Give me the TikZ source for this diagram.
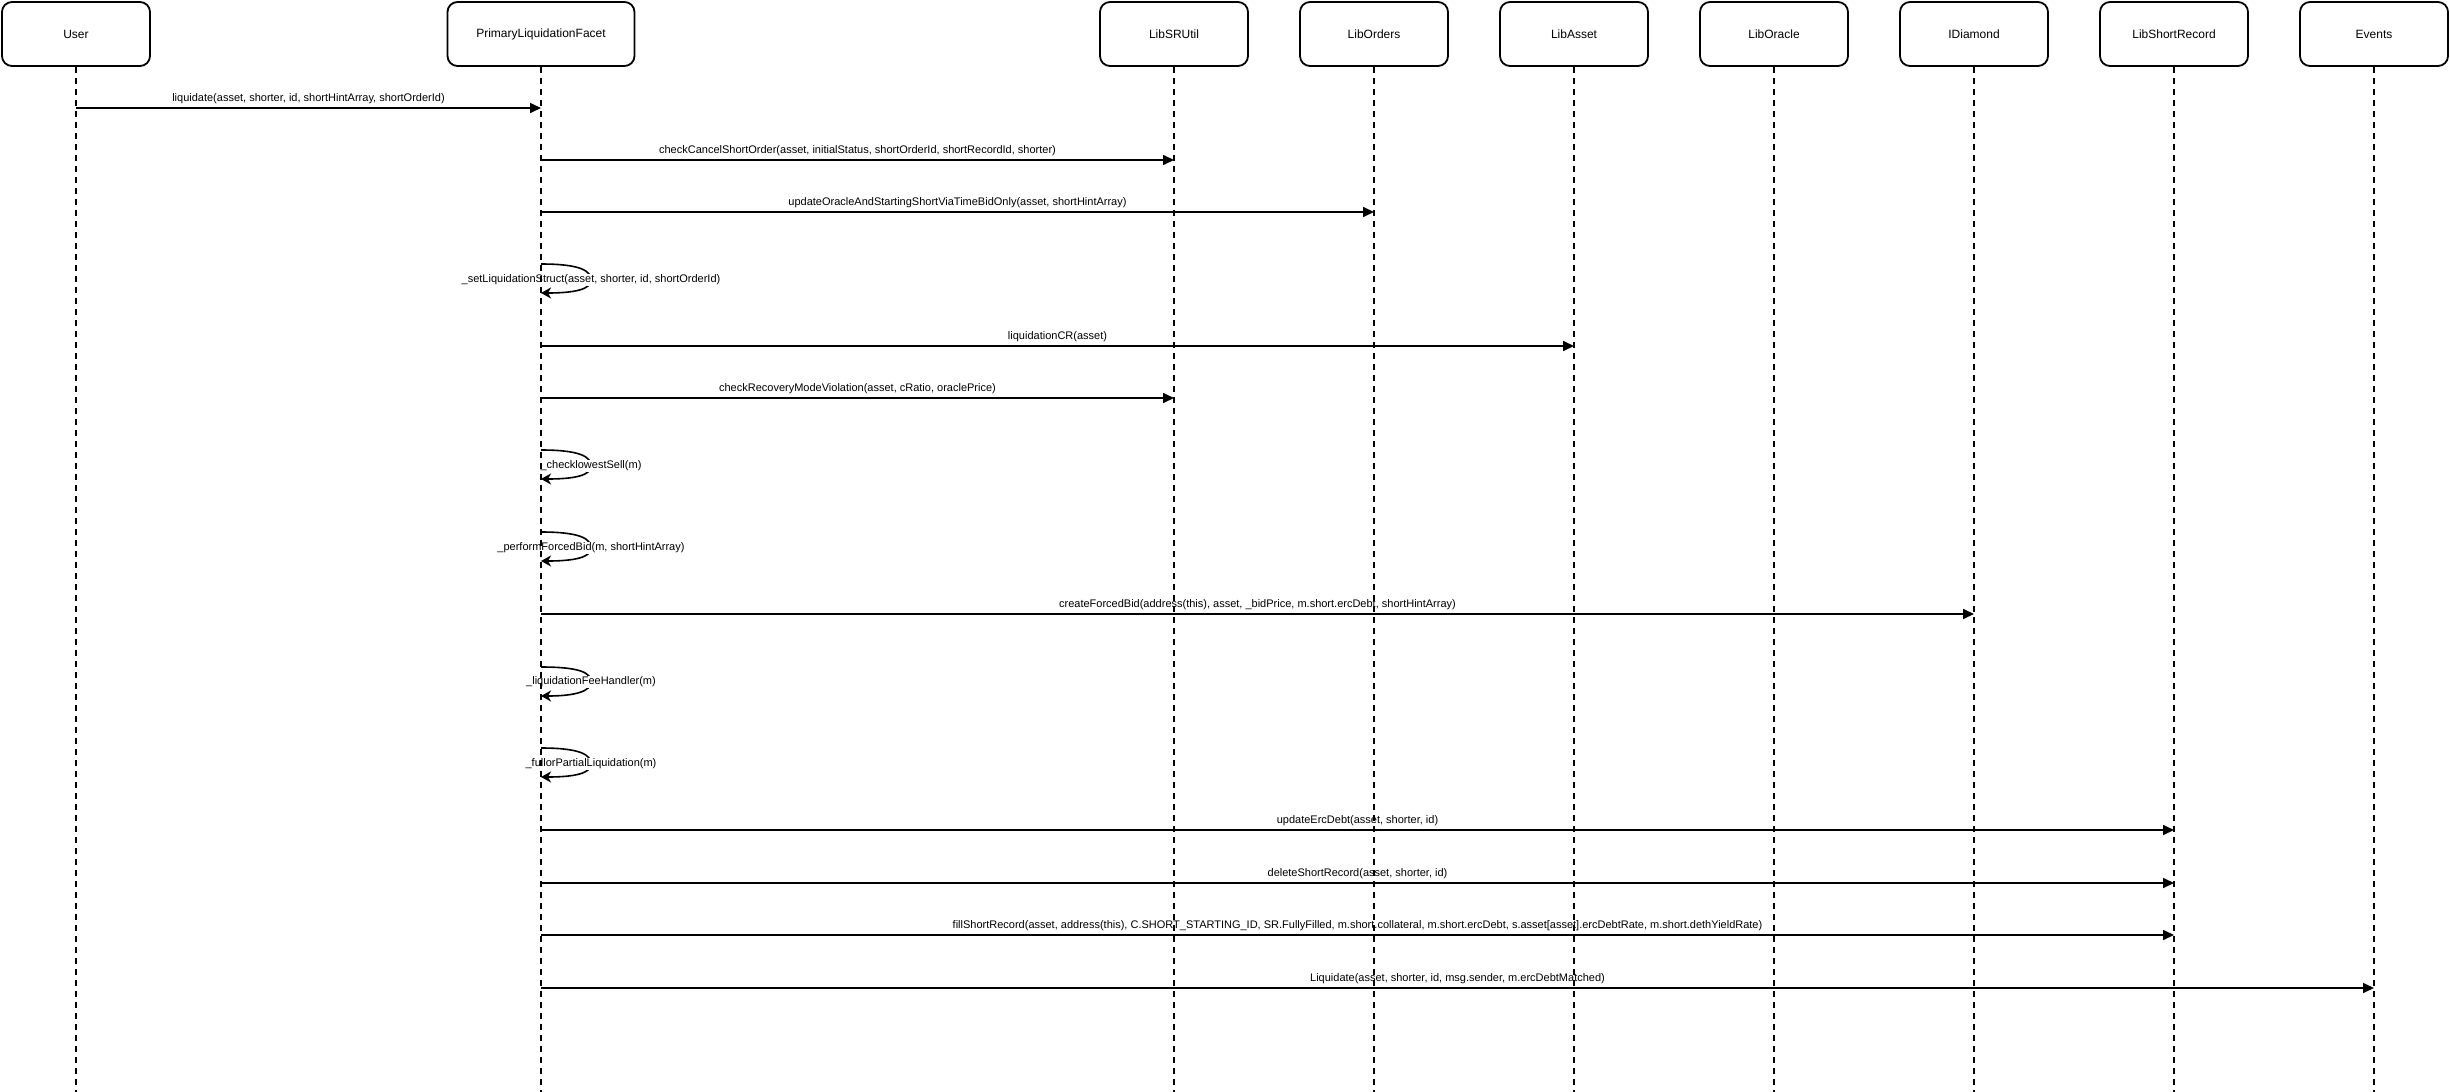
\documentclass[tikz,border=0pt]{standalone}
\usepackage{fontspec}
\setmainfont{Liberation Sans}
\usetikzlibrary{arrows.meta}
\begin{document}
\begin{tikzpicture}[x=1pt,y=-1pt,
 actor/.style={draw, line width=1.8pt, rounded corners=10pt, minimum width=148pt, minimum height=64pt, inner sep=0pt, font=\fontsize{12}{14}\selectfont, fill=white},
 life/.style={line width=1.8pt, dash pattern=on 6pt off 5pt},
 msg/.style={line width=1.6pt, -{Triangle[length=11pt,width=10pt]}},
 selfmsg/.style={line width=1.6pt, -{Stealth[length=10pt,width=11pt,inset=3pt]}},
 lbl/.style={fill=white, inner sep=1pt, font=\fontsize{11}{13}\selectfont},
]
\useasboundingbox (0,0) rectangle (2450,1092);
\fill[white] (0,0) rectangle (2450,1092);

% actors
\node[actor] (user) at (76,34) {User};
\node[actor, minimum width=187pt] (plf) at (541,34) {PrimaryLiquidationFacet};
\node[actor] (srutil) at (1174,34) {LibSRUtil};
\node[actor] (orders) at (1374,34) {LibOrders};
\node[actor] (asset) at (1574,34) {LibAsset};
\node[actor] (oracle) at (1774,34) {LibOracle};
\node[actor] (diamond) at (1974,34) {IDiamond};
\node[actor] (shortrec) at (2174,34) {LibShortRecord};
\node[actor] (events) at (2374,34) {Events};

% messages
\draw[msg] (user |- 0,108) -- node[lbl, midway, yshift=9pt] (m1) {liquidate(asset, shorter, id, shortHintArray, shortOrderId)} (plf |- 0,108);
\draw[msg] (plf |- 0,160) -- node[lbl, midway, yshift=9pt] (m2) {checkCancelShortOrder(asset, initialStatus, shortOrderId, shortRecordId, shorter)} (srutil |- 0,160);
\draw[msg] (plf |- 0,212) -- node[lbl, midway, yshift=9pt] (m3) {updateOracleAndStartingShortViaTimeBidOnly(asset, shortHintArray)} (orders |- 0,212);

% self call 1
\draw[selfmsg] (plf |- 0,264) .. controls +(40,0) and +(0,-9) .. (591,280) .. controls +(0,9) and +(35,0) .. (plf |- 0,293);
\node[lbl] (s1) at (591,280) {\_setLiquidationStruct(asset, shorter, id, shortOrderId)};

\draw[msg] (plf |- 0,346) -- node[lbl, midway, yshift=9pt] (m5) {liquidationCR(asset)} (asset |- 0,346);
\draw[msg] (plf |- 0,398) -- node[lbl, midway, yshift=9pt] (m6) {checkRecoveryModeViolation(asset, cRatio, oraclePrice)} (srutil |- 0,398);

% self call 2
\draw[selfmsg] (plf |- 0,450) .. controls +(40,0) and +(0,-9) .. (591,466) .. controls +(0,9) and +(35,0) .. (plf |- 0,479);
\node[lbl] (s2) at (591,466) {\_checklowestSell(m)};

% self call 3
\draw[selfmsg] (plf |- 0,532) .. controls +(40,0) and +(0,-9) .. (591,548) .. controls +(0,9) and +(35,0) .. (plf |- 0,561);
\node[lbl] (s3) at (591,548) {\_performForcedBid(m, shortHintArray)};

\draw[msg] (plf |- 0,614) -- node[lbl, midway, yshift=9pt] (m9) {createForcedBid(address(this), asset, \_bidPrice, m.short.ercDebt, shortHintArray)} (diamond |- 0,614);

% self call 4
\draw[selfmsg] (plf |- 0,667) .. controls +(40,0) and +(0,-9) .. (591,682) .. controls +(0,9) and +(35,0) .. (plf |- 0,696);
\node[lbl] (s4) at (591,682) {\_liquidationFeeHandler(m)};

% self call 5
\draw[selfmsg] (plf |- 0,748) .. controls +(40,0) and +(0,-9) .. (591,764) .. controls +(0,9) and +(35,0) .. (plf |- 0,777);
\node[lbl] (s5) at (591,764) {\_fullorPartialLiquidation(m)};

\draw[msg] (plf |- 0,830) -- node[lbl, midway, yshift=9pt] (m12) {updateErcDebt(asset, shorter, id)} (shortrec |- 0,830);
\draw[msg] (plf |- 0,883) -- node[lbl, midway, yshift=9pt] (m13) {deleteShortRecord(asset, shorter, id)} (shortrec |- 0,883);
\draw[msg] (plf |- 0,935) -- node[lbl, midway, yshift=9pt] (m14) {fillShortRecord(asset, address(this), C.SHORT\_STARTING\_ID, SR.FullyFilled, m.short.collateral, m.short.ercDebt, s.asset[asset].ercDebtRate, m.short.dethYieldRate)} (shortrec |- 0,935);
\draw[msg] (plf |- 0,988) -- node[lbl, midway, yshift=9pt] (m15) {Liquidate(asset, shorter, id, msg.sender, m.ercDebtMatched)} (events |- 0,988);

% lifelines
\foreach \a in {user,plf,srutil,orders,asset,oracle,diamond,shortrec,events}{
  \coordinate (\a-end) at (\a |- 0,1092);
  \draw[life] (\a.south) -- (\a-end);
}
\end{tikzpicture}
\end{document}
